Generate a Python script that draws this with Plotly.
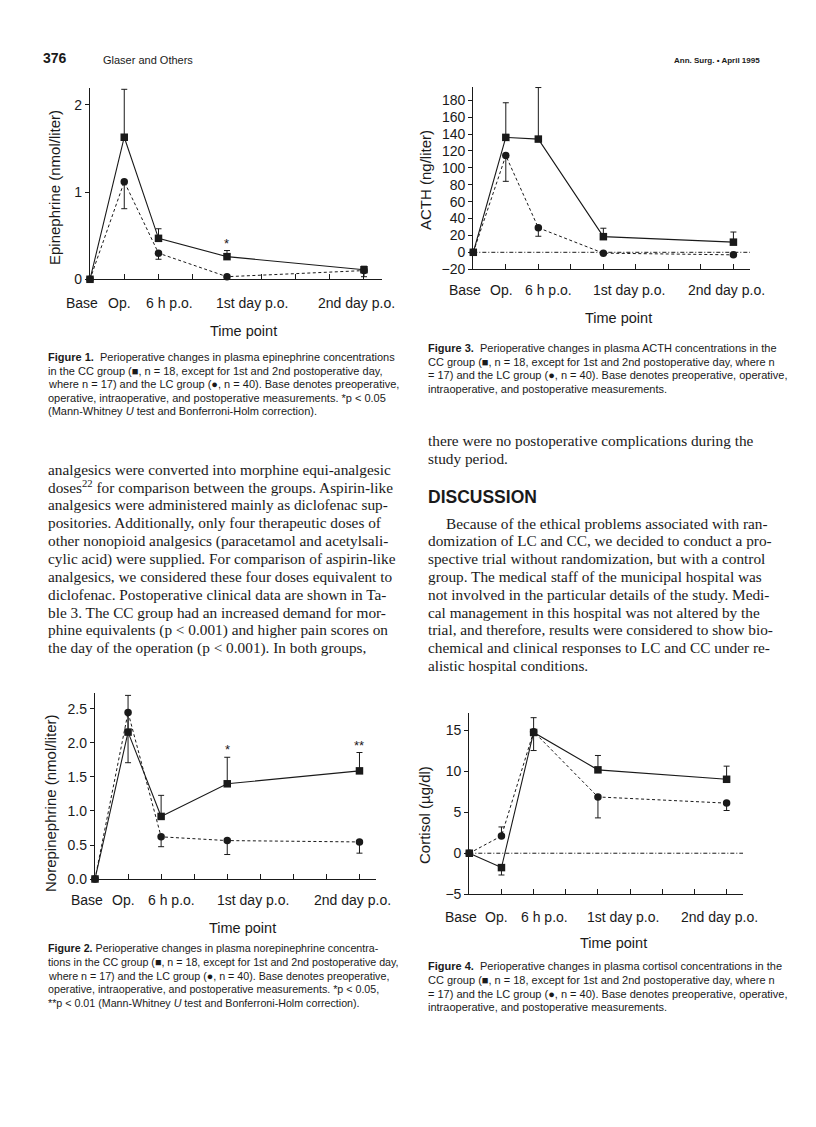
import plotly.graph_objects as go

W, H = 816, 1127

# ---------------- data ----------------
time_labels = ["Base", "Op.", "6 h p.o.", "1st day p.o.", "2nd day p.o."]
time_pos = [0, 1, 2, 4, 8]
tick_marks = [0, 1, 2, 3, 4, 5, 6, 7, 8]

# Figure 1: epinephrine (nmol/liter)
epi_cc = [0.0, 1.63, 0.47, 0.26, 0.11]
epi_cc_up = [0.0, 0.55, 0.11, 0.07, 0.04]
epi_cc_dn = [0.0, 0.0, 0.0, 0.0, 0.0]
epi_lc = [0.0, 1.12, 0.30, 0.03, 0.10]
epi_lc_up = [0.0, 0.0, 0.0, 0.0, 0.0]
epi_lc_dn = [0.0, 0.31, 0.07, 0.0, 0.07]
epi_sig = ["", "", "", "*", ""]

# Figure 3: ACTH (ng/liter)
acth_cc = [0, 136, 134, 18.5, 12]
acth_cc_up = [0, 41, 61, 10, 12]
acth_cc_dn = [0, 0, 0, 0, 0]
acth_lc = [0, 114.5, 29, -1, -3]
acth_lc_up = [0, 0, 0, 0, 0]
acth_lc_dn = [0, 30.5, 10, 0, 0]
acth_sig = ["", "", "", "", ""]

# Figure 2: norepinephrine (nmol/liter)
nor_cc = [0.0, 2.16, 0.92, 1.40, 1.59]
nor_cc_up = [0.0, 0.54, 0.31, 0.39, 0.27]
nor_cc_dn = [0.0, 0.0, 0.0, 0.0, 0.0]
nor_lc = [0.0, 2.45, 0.62, 0.565, 0.545]
nor_lc_up = [0.0, 0.0, 0.0, 0.0, 0.0]
nor_lc_dn = [0.0, 0.74, 0.145, 0.205, 0.165]
nor_sig = ["", "", "", "*", "**"]

# Figure 4: cortisol (ug/dl)
cort_cc = [0.0, -1.75, 14.7, 10.15, 9.0]
cort_cc_up = [0.0, 0.0, 1.8, 1.75, 1.6]
cort_cc_dn = [0.0, 0.9, 0.0, 0.0, 0.0]
cort_lc = [0.0, 2.1, 14.8, 6.85, 6.1]
cort_lc_up = [0.0, 1.1, 0.0, 0.0, 0.0]
cort_lc_dn = [0.0, 0.0, 2.3, 2.55, 0.9]
cort_sig = ["", "", "", "", ""]

# ---------------- layout helpers ----------------
SANS = "Liberation Sans, Arial, Helvetica, sans-serif"
SERIF = "Liberation Serif, Times New Roman, serif"
INK = "#1a1a1a"
H_EFF = 1119  # empirical vertical calibration


def fx(px):
    return px / W


def fy(py):
    return 1 - py / H_EFF


panels = [
    dict(ax="", x0=90, x1=382, xr=8.526, yb=279.3, yt=88, yr=[0, 2.195],
         yt_vals=[0, 1, 2], yfmt=None,
         cc=epi_cc, ccu=epi_cc_up, ccd=epi_cc_dn, lc=epi_lc, lcu=epi_lc_up, lcd=epi_lc_dn, sig=epi_sig,
         ytitle="Epinephrine (nmol/liter)", yt_x=55, yt_y=188, lab_y=303, tp=(243, 331), zero=False),
    dict(ax="2", x0=473.3, x1=750, xr=8.51, yb=269.2, yt=86.7, yr=[-20, 196],
         yt_vals=list(range(-20, 181, 20)), yfmt=None,
         cc=acth_cc, ccu=acth_cc_up, ccd=acth_cc_dn, lc=acth_lc, lcu=acth_lc_up, lcd=acth_lc_dn, sig=acth_sig,
         ytitle="ACTH (ng/liter)", yt_x=425, yt_y=180, lab_y=290, tp=(618, 318), zero=True),
    dict(ax="3", x0=95, x1=376, xr=8.5, yb=879, yt=693, yr=[0, 2.735],
         yt_vals=[0, 0.5, 1.0, 1.5, 2.0, 2.5], yfmt=".1f",
         cc=nor_cc, ccu=nor_cc_up, ccd=nor_cc_dn, lc=nor_lc, lcu=nor_lc_up, lcd=nor_lc_dn, sig=nor_sig,
         ytitle="Norepinephrine (nmol/liter)", yt_x=50, yt_y=803, lab_y=900, tp=(242, 928), zero=False),
    dict(ax="4", x0=469.3, x1=743, xr=8.51, yb=894.3, yt=713, yr=[-5, 17.07],
         yt_vals=[-5, 0, 5, 10, 15], yfmt=None,
         cc=cort_cc, ccu=cort_cc_up, ccd=cort_cc_dn, lc=cort_lc, lcu=cort_lc_up, lcd=cort_lc_dn, sig=cort_sig,
         ytitle="Cortisol (µg/dl)", yt_x=424, yt_y=815, lab_y=917, tp=(613, 943), zero=True),
]

label_shift = [-8, -4.5, 10.5, 25.5, -7.3]

fig = go.Figure()
annotations = []
shapes = []
layout_axes = {}

for p in panels:
    a = p["ax"]
    xname = "x" + a
    yname = "y" + a
    err_style = dict(type="data", symmetric=False, color=INK, thickness=1, width=3)
    fig.add_trace(go.Scatter(
        x=time_pos, y=p["lc"], xaxis=xname, yaxis=yname, mode="lines+markers",
        line=dict(color=INK, width=1, dash="3px,2.5px"),
        marker=dict(symbol="circle", size=7.5, color=INK),
        error_y=dict(array=p["lcu"], arrayminus=p["lcd"], **err_style),
        cliponaxis=False, hoverinfo="skip"))
    fig.add_trace(go.Scatter(
        x=time_pos, y=p["cc"], xaxis=xname, yaxis=yname, mode="lines+markers",
        line=dict(color=INK, width=1.1),
        marker=dict(symbol="square", size=7.5, color=INK),
        error_y=dict(array=p["ccu"], arrayminus=p["ccd"], **err_style),
        cliponaxis=False, hoverinfo="skip"))

    layout_axes["xaxis" + a] = dict(
        domain=[fx(p["x0"]), fx(p["x1"])], range=[0, p["xr"]], anchor=yname,
        showline=True, linecolor=INK, linewidth=1.3, ticks="inside", ticklen=5,
        tickcolor=INK, tickwidth=1, tickvals=tick_marks, showticklabels=False,
        showgrid=False, zeroline=False, fixedrange=True)
    ydict = dict(
        domain=[fy(p["yb"]), fy(p["yt"])], range=p["yr"], anchor=xname,
        showline=True, linecolor=INK, linewidth=1.3, ticks="outside", ticklen=4,
        tickcolor=INK, tickwidth=1, tickvals=p["yt_vals"],
        tickfont=dict(family=SANS, size=14, color=INK),
        showgrid=False, zeroline=False, fixedrange=True)
    if p["yfmt"]:
        ydict["tickformat"] = p["yfmt"]
    layout_axes["yaxis" + a] = ydict

    # x tick labels
    for xv, txt_, sh in zip(time_pos, time_labels, label_shift):
        annotations.append(dict(
            x=xv, xref=xname, y=fy(p["lab_y"]), yref="paper", text=txt_, showarrow=False,
            xanchor="center", yanchor="middle", xshift=sh,
            font=dict(family=SANS, size=14, color=INK)))
    # axis titles
    annotations.append(dict(
        x=fx(p["tp"][0]), y=fy(p["tp"][1]), xref="paper", yref="paper", text="Time point",
        showarrow=False, xanchor="center", yanchor="middle",
        font=dict(family=SANS, size=14.5, color=INK)))
    annotations.append(dict(
        x=fx(p["yt_x"]), y=fy(p["yt_y"]), xref="paper", yref="paper", text=p["ytitle"],
        showarrow=False, xanchor="center", yanchor="middle", textangle=-90,
        font=dict(family=SANS, size=15, color=INK)))
    # significance marks
    for xv, v, e, s in zip(time_pos, p["cc"], p["ccu"], p["sig"]):
        if s:
            annotations.append(dict(
                x=xv, xref=xname, y=v + e, yref=yname, text=s, showarrow=False,
                xanchor="center", yanchor="bottom", yshift=-2,
                font=dict(family=SANS, size=13, color=INK)))
    if p["zero"]:
        shapes.append(dict(
            type="line", xref=xname + " domain", yref=yname, x0=0, x1=1, y0=0, y1=0,
            line=dict(color=INK, width=1, dash="4px,2px,1px,2px")))


# ---------------- page text ----------------
def txt(x, y, s, size=10.5, family=SANS, anchor="left"):
    annotations.append(dict(
        x=fx(x), y=fy(y), xref="paper", yref="paper", text=s, showarrow=False,
        xanchor=anchor, yanchor="middle", align="left",
        font=dict(family=family, size=size, color=INK)))


txt(41, 58, "<b>376</b>", size=14)
txt(101, 60, "Glaser and Others", size=11)
txt(762, 61, "<b>Ann. Surg. • April 1995</b>", size=8, anchor="right")

cap1 = [
    "<b>Figure 1.</b>  Perioperative changes in plasma epinephrine concentrations",
    "in the CC group (■, n = 18, except for 1st and 2nd postoperative day,",
    "where n = 17) and the LC group (●, n = 40). Base denotes preoperative,",
    "operative, intraoperative, and postoperative measurements. *p &lt; 0.05",
    "(Mann-Whitney <i>U</i> test and Bonferroni-Holm correction).",
]
cap3 = [
    "<b>Figure 3.</b>  Perioperative changes in plasma ACTH concentrations in the",
    "CC group (■, n = 18, except for 1st and 2nd postoperative day, where n",
    "= 17) and the LC group (●, n = 40). Base denotes preoperative, operative,",
    "intraoperative, and postoperative measurements.",
]
cap2 = [
    "<b>Figure 2.</b> Perioperative changes in plasma norepinephrine concentra-",
    "tions in the CC group (■, n = 18, except for 1st and 2nd postoperative day,",
    "where n = 17) and the LC group (●, n = 40). Base denotes preoperative,",
    "operative, intraoperative, and postoperative measurements. *p &lt; 0.05,",
    "**p &lt; 0.01 (Mann-Whitney <i>U</i> test and Bonferroni-Holm correction).",
]
cap4 = [
    "<b>Figure 4.</b>  Perioperative changes in plasma cortisol concentrations in the",
    "CC group (■, n = 18, except for 1st and 2nd postoperative day, where n",
    "= 17) and the LC group (●, n = 40). Base denotes preoperative, operative,",
    "intraoperative, and postoperative measurements.",
]
CAP = 11.0
for i, s in enumerate(cap1):
    txt(46, 357 + 13.6 * i, s, size=CAP)
for i, s in enumerate(cap3):
    txt(426, 348 + 13.6 * i, s, size=CAP)
for i, s in enumerate(cap2):
    txt(46, 948 + 13.8 * i, s, size=CAP - 0.3)
for i, s in enumerate(cap4):
    txt(426, 966 + 13.8 * i, s, size=CAP)

BODY = 15.3
body_left = [
    "analgesics were converted into morphine equi-analgesic",
    "doses<sup>22</sup> for comparison between the groups. Aspirin-like",
    "analgesics were administered mainly as diclofenac sup-",
    "positories. Additionally, only four therapeutic doses of",
    "other nonopioid analgesics (paracetamol and acetylsali-",
    "cylic acid) were supplied. For comparison of aspirin-like",
    "analgesics, we considered these four doses equivalent to",
    "diclofenac. Postoperative clinical data are shown in Ta-",
    "ble 3. The CC group had an increased demand for mor-",
    "phine equivalents (p &lt; 0.001) and higher pain scores on",
    "the day of the operation (p &lt; 0.001). In both groups,",
]
for i, s in enumerate(body_left):
    txt(46, 469 + 17.9 * i, s, size=BODY, family=SERIF)

txt(426, 440, "there were no postoperative complications during the", size=BODY, family=SERIF)
txt(426, 458, "study period.", size=BODY, family=SERIF)
txt(426, 497, "<b>DISCUSSION</b>", size=17.5)

body_right = [
    "domization of LC and CC, we decided to conduct a pro-",
    "spective trial without randomization, but with a control",
    "group. The medical staff of the municipal hospital was",
    "not involved in the particular details of the study. Medi-",
    "cal management in this hospital was not altered by the",
    "trial, and therefore, results were considered to show bio-",
    "chemical and clinical responses to LC and CC under re-",
    "alistic hospital conditions.",
]
txt(444, 523, "Because of the ethical problems associated with ran-", size=BODY, family=SERIF)
for i, s in enumerate(body_right):
    txt(426, 523 + 17.8 * (i + 1), s, size=BODY, family=SERIF)

fig.update_layout(
    width=W, height=H, margin=dict(l=0, r=0, t=0, b=0),
    paper_bgcolor="white", plot_bgcolor="white", showlegend=False,
    annotations=annotations, shapes=shapes, **layout_axes)

fig.write_html("out.html", config={"displayModeBar": False},
               post_script="document.body.style.margin='0';document.body.style.overflow='hidden';")
